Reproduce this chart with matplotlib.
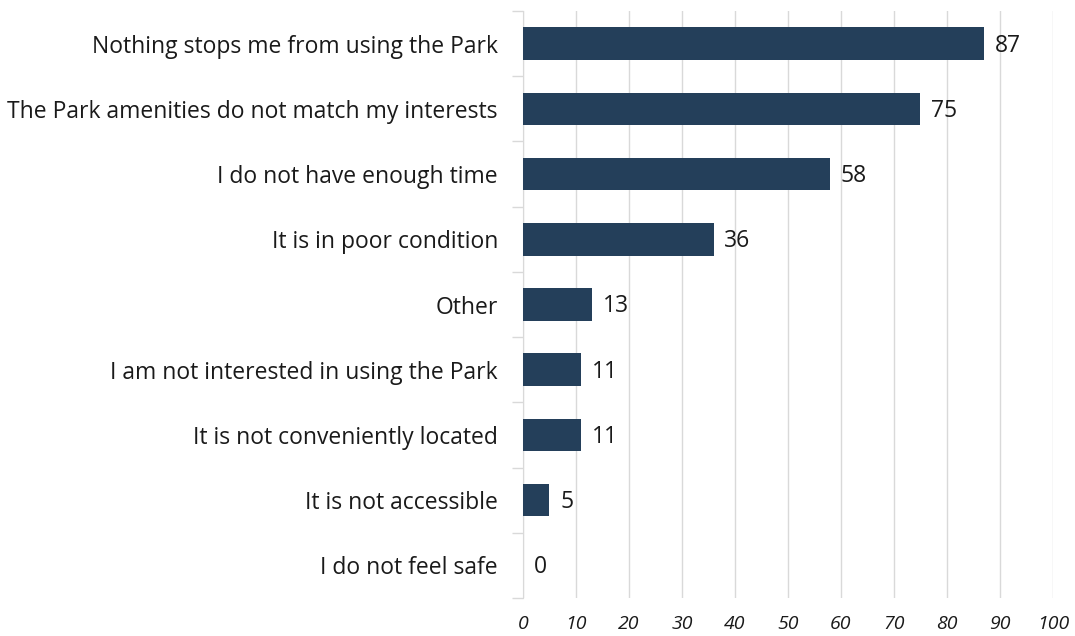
import matplotlib.pyplot as plt
import numpy as np

plt.rcParams['font.family'] = ['Open Sans', 'DejaVu Sans']

categories = [
    'Nothing stops me from using the Park',
    'The Park amenities do not match my interests',
    'I do not have enough time',
    'It is in poor condition',
    'Other',
    'I am not interested in using the Park',
    'It is not conveniently located',
    'It is not accessible',
    'I do not feel safe',
]
values = [87, 75, 58, 36, 13, 11, 11, 5, 0]
xticks = list(range(0, 101, 10))

fig = plt.figure(figsize=(10.75, 6.36), dpi=100)
ax = fig.add_axes([0.4865, 0.0597, 0.493, 0.923])

y = np.arange(len(categories))
ax.barh(y, values, height=0.5, color='#243f5a', zorder=3)
for yi, v in zip(y, values):
    ax.text(v + 2.0, yi + 0.03, str(v), va='center', ha='left', fontsize=16.5, color='#1a1a1a')

ax.set_ylim(len(categories) - 0.5, -0.5)
ax.set_xlim(0, 100)
ax.set_yticks(y)
ax.set_yticklabels(categories, fontsize=16.5, color='#1a1a1a')
ax.set_yticks(np.arange(-0.5, len(categories)), minor=True)
ax.tick_params(axis='y', which='major', length=0, pad=18)
ax.tick_params(axis='y', which='minor', length=8, color='#d9d9d9', width=1)
ax.set_xticks(xticks)
ax.set_xticklabels([str(t) for t in xticks], fontsize=14, style='italic', color='#1a1a1a')
ax.tick_params(axis='x', length=0, pad=12)
ax.grid(axis='x', color='#d9d9d9', linewidth=1, zorder=0)
for s in ['top', 'right', 'bottom']:
    ax.spines[s].set_visible(False)
ax.spines['left'].set_color('#d9d9d9')

fig.savefig('out.png', dpi=100)
